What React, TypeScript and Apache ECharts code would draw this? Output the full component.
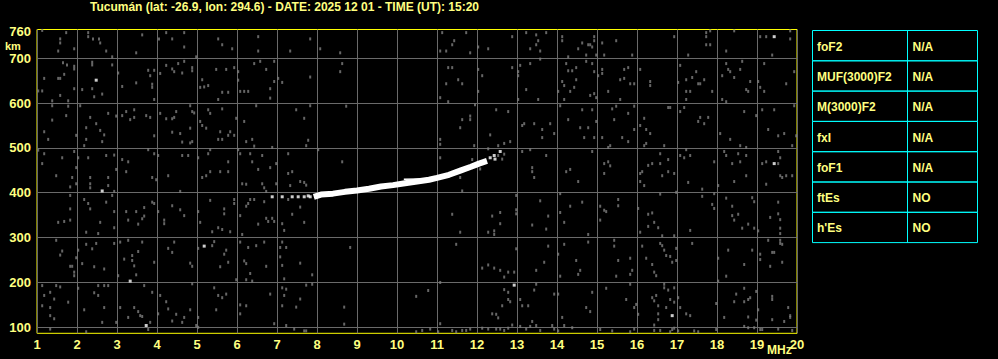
import React, { useEffect, useRef } from "react";
import * as echarts from "echarts";

const TITLE = "Tucumán (lat: -26.9, lon: 294.6) - DATE: 2025 12 01 - TIME (UT): 15:20";
const FREQ_MIN = 1;
const FREQ_MAX = 20;
const HEIGHT_MIN = 86.6;
const HEIGHT_MAX = 764;
const freqTicks = [1, 2, 3, 4, 5, 6, 7, 8, 9, 10, 11, 12, 13, 14, 15, 16, 17, 18, 19, 20];
const heightLabels = [100, 200, 300, 400, 500, 600, 700, 760];
const heightGrid = [100, 200, 300, 400, 500, 600, 700];

const paramNames = ["foF2", "MUF(3000)F2", "M(3000)F2", "fxI", "foF1", "ftEs", "h'Es"];
const paramValues = ["N/A", "N/A", "N/A", "N/A", "N/A", "NO", "NO"];

// F-layer trace (MHz, km)
const traceMain = [
  [7.92, 391], [8.1, 396], [8.4, 398], [8.7, 402], [9.0, 405], [9.3, 409], [9.6, 414],
  [9.9, 417], [10.2, 421], [10.5, 425], [10.8, 429], [11.0, 433], [11.3, 440],
  [11.6, 450], [11.85, 458], [12.05, 465], [12.25, 471],
];
const traceEcho = [[10.17, 430], [10.98, 431]];
const traceDots = [
  [6.88, 391], [7.13, 391], [7.38, 391], [7.53, 391], [7.68, 391], [7.78, 393], [7.83, 391],
  [12.33, 478], [12.43, 483], [12.58, 492], [12.45, 475],
];

const noiseWhite = [
  [2.48, 651], [2.63, 404], [3.33, 203], [3.73, 104], [5.18, 281], [12.93, 194],
  [19.43, 748], [19.43, 465], [16.88, 126],
];

const noiseGray = [
  // 1-7 MHz
  [1.13, 762], [1.73, 757], [1.58, 743], [1.58, 734], [2.28, 757], [2.28, 748], [2.4, 743], [2.55, 743],
  [2.58, 734], [2.73, 716], [2.88, 703], [3.48, 712], [3.63, 752], [4.05, 743], [4.23, 757], [4.38, 743],
  [4.68, 757], [4.68, 725], [4.98, 703], [5.53, 743], [5.63, 730], [5.88, 721], [6.53, 748], [6.53, 716],
  [1.93, 721], [1.53, 716],
  [1.65, 690], [1.75, 685], [1.93, 682], [1.93, 676], [2.38, 691], [2.38, 685], [2.88, 685], [1.18, 655],
  [1.53, 655], [1.58, 655], [1.68, 664], [1.93, 632], [2.38, 632], [2.43, 614], [2.63, 620],
  [1.78, 605], [1.58, 617], [1.38, 605], [3.03, 667], [3.48, 645], [3.13, 637], [3.78, 673], [3.93, 673],
  [3.88, 642], [3.88, 635], [3.83, 661], [3.93, 608], [4.08, 666], [4.23, 684], [4.38, 676], [4.53, 688],
  [4.68, 693], [4.43, 670], [4.63, 667], [4.88, 679], [4.88, 672], [5.13, 652], [5.18, 636], [5.08, 635],
  [5.28, 639], [5.48, 675], [5.73, 675], [5.78, 624], [5.63, 624], [5.53, 608], [5.93, 679], [6.03, 670],
  [6.03, 651], [6.08, 626], [6.18, 626], [6.28, 626], [6.43, 688], [6.58, 693], [6.73, 675], [6.83, 632],
  [6.93, 693], [6.93, 648], [7.03, 655], [7.13, 646], [6.83, 611], [1.13, 627], [1.03, 627], [2.13, 630],
  [1.38, 594], [1.78, 593], [2.08, 594], [1.38, 562], [1.73, 572], [2.23, 545], [2.33, 568], [2.48, 554],
  [2.58, 539], [2.68, 529], [2.63, 514], [2.78, 577], [2.98, 571], [1.18, 536], [1.28, 519], [1.98, 528],
  [2.23, 519], [2.18, 505], [3.13, 572], [3.23, 581], [3.33, 563], [3.43, 585], [3.43, 568], [3.73, 572],
  [3.83, 568], [3.93, 527], [4.08, 577], [4.23, 565], [4.38, 565], [4.43, 568], [4.48, 581], [4.38, 535],
  [4.58, 532], [4.83, 594], [4.88, 581], [4.93, 578], [4.83, 544], [4.83, 511], [4.88, 514], [4.63, 513],
  [5.08, 559], [5.13, 550], [5.23, 544], [5.28, 585], [5.33, 577], [5.63, 587], [5.58, 536], [5.53, 519],
  [5.63, 519], [5.78, 528], [5.83, 536], [5.93, 528], [6.18, 559], [6.23, 514], [6.38, 519], [6.48, 594],
  [6.43, 504], [5.98, 566],
  [1.03, 495], [1.18, 487], [1.13, 465], [1.48, 438], [1.63, 478], [1.88, 434], [1.93, 492], [1.83, 413],
  [1.98, 456], [1.98, 420], [2.03, 478], [2.28, 478], [2.33, 434], [2.33, 420], [2.33, 411], [2.73, 483],
  [2.78, 434], [2.78, 416], [2.93, 484], [2.98, 452], [3.13, 474], [3.28, 469], [3.23, 447], [2.93, 403],
  [3.78, 496], [3.93, 487], [3.88, 434], [3.98, 429], [4.03, 483], [4.28, 438], [4.63, 483], [4.78, 483],
  [4.58, 403], [5.03, 478], [5.13, 434], [5.23, 438], [5.28, 487], [5.33, 496], [5.33, 447], [5.58, 447],
  [5.78, 469], [5.78, 447], [6.03, 496], [6.08, 487], [6.13, 420], [6.23, 419], [6.33, 487], [6.38, 469],
  [6.53, 452], [6.63, 483], [6.63, 420], [6.68, 411], [6.73, 403], [6.88, 501], [6.83, 456], [6.98, 465],
  [6.98, 420], [7.28, 487], [7.28, 443],
  [1.83, 394], [1.83, 364], [1.83, 339], [1.68, 336], [1.53, 334], [2.18, 385], [2.28, 376], [2.33, 364],
  [2.73, 379], [2.88, 394], [2.93, 358], [2.93, 322], [2.58, 334], [2.23, 312], [2.53, 309], [3.23, 358],
  [3.48, 358], [3.63, 342], [3.68, 348], [3.68, 367], [3.53, 330], [3.28, 339], [3.88, 379], [3.93, 376],
  [4.03, 358], [4.18, 339], [4.18, 331], [4.38, 371], [4.58, 362], [4.68, 349], [5.03, 358], [5.08, 334],
  [5.33, 383], [5.38, 313], [5.53, 322], [5.63, 318], [5.68, 364], [5.68, 353], [5.83, 313], [5.93, 385],
  [5.93, 376], [6.08, 349], [6.28, 376], [6.33, 385], [6.43, 385], [6.23, 370], [6.13, 307], [6.53, 330],
  [6.68, 380], [6.73, 343], [6.78, 336], [6.88, 343], [6.93, 336], [7.13, 331], [7.18, 316], [7.28, 385],
  [1.48, 294], [1.63, 270], [1.58, 261], [1.83, 236], [1.88, 236], [1.98, 255], [2.03, 272], [1.93, 223],
  [1.93, 215], [2.13, 242], [2.23, 285], [2.38, 275], [2.48, 287], [2.43, 235], [2.68, 230], [2.93, 287],
  [3.08, 290], [3.28, 294], [3.18, 252], [3.38, 260], [3.38, 249], [3.43, 237], [3.48, 217], [3.03, 215],
  [3.63, 290], [3.53, 269], [3.93, 245], [4.28, 276], [4.38, 267], [4.43, 290], [4.83, 243], [4.88, 236],
  [5.03, 276], [5.38, 282], [5.43, 291], [5.73, 272], [5.68, 263], [5.78, 245], [5.58, 235], [6.08, 290],
  [6.18, 248], [6.23, 242], [6.33, 220], [6.28, 278], [6.48, 282], [6.73, 236], [6.68, 290], [5.98, 206],
  [6.23, 206], [6.38, 203], [7.13, 290], [7.08, 278], [7.23, 278], [7.08, 257], [7.13, 238], [7.18, 208],
  [1.13, 193], [1.18, 171], [1.33, 178], [1.48, 193], [1.58, 190], [1.43, 163], [1.33, 144], [1.13, 148],
  [1.33, 126], [1.43, 119], [1.78, 156], [2.03, 187], [2.18, 139], [2.43, 177], [2.53, 193], [2.53, 171],
  [2.68, 193], [2.78, 193], [2.68, 144], [2.63, 111], [2.98, 111], [3.08, 144], [3.28, 122], [3.43, 144],
  [3.53, 135], [3.58, 126], [3.63, 124], [3.68, 193], [3.88, 178], [3.83, 111], [4.03, 130], [4.08, 171],
  [4.23, 157], [4.28, 141], [4.38, 114], [4.48, 129], [4.63, 111], [4.68, 122], [4.83, 139], [4.88, 197],
  [5.03, 122], [4.98, 104], [5.43, 188], [5.53, 171], [5.63, 166], [5.73, 174], [5.48, 139], [6.08, 150],
  [6.23, 148], [6.08, 130], [6.93, 108], [6.83, 174], [7.13, 188], [7.18, 171], [7.23, 185], [7.23, 104],
  [7.13, 148], [1.33, 96], [2.23, 90], [3.78, 95], [5.03, 100],
  // 7-13.7 MHz
  [7.83, 743], [8.08, 721], [8.58, 712], [11.13, 757], [11.43, 739], [11.38, 730], [11.23, 716], [11.08, 716],
  [11.73, 757], [11.83, 712], [12.03, 725], [12.28, 721], [12.88, 748], [13.23, 757], [13.48, 752],
  [13.53, 739], [13.48, 730], [13.33, 721], [13.58, 716], [7.33, 716],
  [8.63, 688], [8.58, 670], [7.83, 658], [11.28, 679], [11.38, 679], [11.23, 643], [11.53, 652], [11.63, 643],
  [12.03, 675], [12.13, 661], [12.03, 626], [11.08, 612], [11.28, 603], [12.88, 679], [13.03, 670],
  [13.08, 684], [13.33, 688], [13.03, 661], [13.23, 630], [13.03, 608], [13.53, 608], [13.58, 698],
  [7.48, 585], [7.68, 566], [7.83, 594], [7.78, 517], [7.73, 505], [8.73, 593], [11.63, 563], [11.83, 571],
  [11.83, 563], [11.58, 545], [11.95, 596], [12.48, 585], [12.78, 581], [13.13, 550], [13.18, 554],
  [13.43, 554], [13.63, 541], [13.63, 523], [12.33, 529], [11.08, 519], [11.08, 508], [11.93, 505],
  [12.28, 498], [12.53, 505], [12.68, 510], [12.83, 514],
  [8.03, 496], [8.63, 469], [7.38, 447], [7.58, 425], [7.68, 423], [7.73, 417], [7.33, 416], [11.08, 478],
  [11.58, 434], [11.63, 404], [13.13, 492], [13.33, 496], [13.38, 456], [13.38, 447], [13.43, 434],
  [12.08, 453], [11.88, 474], [12.53, 483], [12.68, 486], [12.63, 475],
  [7.58, 368], [7.38, 352], [7.68, 334], [11.38, 352], [11.58, 312], [12.38, 348], [12.58, 356],
  [12.58, 331], [12.28, 312], [12.43, 315], [12.43, 307], [12.98, 394], [12.98, 362], [12.98, 353],
  [13.38, 328], [13.58, 382],
  [8.83, 278], [7.58, 243], [7.88, 217], [11.48, 285], [12.98, 275], [12.13, 232], [12.28, 239], [12.43, 232],
  [12.58, 227], [12.68, 212], [12.78, 223], [12.93, 223], [13.48, 227], [11.08, 200],
  [7.73, 194], [7.88, 196], [7.58, 163], [7.48, 145], [8.68, 145], [8.68, 107], [10.48, 169], [10.78, 182],
  [12.68, 184], [12.78, 178], [12.78, 162], [12.83, 157], [13.08, 162], [13.13, 148], [13.28, 148],
  [12.63, 148], [12.38, 130], [12.48, 129], [12.53, 121], [13.48, 196], [13.43, 183], [13.38, 113],
  [13.48, 104], [11.08, 108],
  [10.48, 90], [10.63, 93], [10.83, 96], [11.03, 90], [11.38, 93], [11.48, 90], [11.63, 93], [11.73, 93],
  [11.83, 96], [12.13, 98], [12.28, 96], [12.48, 96], [12.58, 96], [12.68, 93], [12.78, 98], [12.88, 105],
  [13.08, 102], [13.23, 96], [13.33, 102], [13.58, 93], [7.68, 92], [7.73, 92], [7.43, 96],
  // 13.7-20 MHz
  [13.73, 757], [14.13, 748], [14.13, 739], [14.28, 703], [14.53, 721], [14.63, 734], [14.73, 707],
  [14.78, 730], [14.83, 730], [14.88, 725], [14.93, 748], [14.93, 739], [14.98, 707], [15.13, 734],
  [15.48, 739], [15.18, 707], [15.88, 707], [16.93, 748], [17.28, 707], [17.73, 757], [17.73, 748],
  [17.73, 730], [17.83, 730], [17.83, 761], [18.23, 716], [18.43, 761], [19.08, 748], [19.23, 748],
  [19.38, 707], [19.83, 743], [19.83, 761],
  [14.23, 688], [14.38, 672], [14.28, 672], [14.48, 679], [14.73, 693], [14.88, 688], [14.93, 670],
  [15.03, 661], [15.13, 675], [15.13, 666], [15.68, 675], [15.78, 679], [15.58, 652], [15.68, 655],
  [15.83, 643], [15.93, 643], [16.08, 675], [16.33, 648], [16.33, 639], [14.13, 648], [14.18, 639],
  [14.33, 626], [14.03, 626], [14.48, 652], [14.43, 635], [14.18, 608], [14.83, 617], [14.93, 621],
  [14.98, 612], [15.28, 626], [15.58, 608], [17.03, 646], [17.08, 684], [17.23, 652], [17.38, 657],
  [17.48, 670], [17.53, 643], [17.58, 643], [17.68, 652], [17.23, 626], [17.33, 626], [17.88, 626],
  [18.13, 661], [18.23, 688], [18.28, 675], [18.33, 670], [18.43, 657], [18.58, 675], [18.63, 693],
  [18.73, 630], [18.78, 626], [18.83, 648], [19.03, 648], [19.08, 635], [19.18, 626], [19.18, 688],
  [19.73, 643], [19.93, 670], [18.13, 608], [18.23, 603], [17.23, 608],
  [14.08, 594], [13.83, 554], [14.28, 563], [14.63, 585], [14.58, 545], [14.68, 523], [14.78, 545],
  [14.88, 585], [14.93, 523], [14.98, 559], [15.13, 523], [15.38, 587], [15.43, 563], [15.48, 593],
  [15.78, 577], [15.63, 523], [15.78, 514], [15.33, 505], [15.93, 593], [15.93, 541], [16.08, 550],
  [16.18, 566], [16.23, 541], [16.33, 532], [16.18, 505], [16.23, 510], [16.68, 505], [16.78, 590],
  [16.83, 590], [17.08, 581], [17.18, 590], [17.53, 559], [17.58, 568], [17.68, 554], [17.78, 568],
  [18.08, 532], [18.33, 519], [18.68, 581], [18.58, 505], [18.73, 501], [18.98, 572], [19.13, 585],
  [19.28, 541], [19.43, 585], [19.53, 527], [19.68, 532], [19.93, 594], [19.98, 527], [19.88, 505],
  [13.93, 532],
  [13.73, 483], [14.23, 447], [14.33, 452], [14.53, 425], [14.88, 492], [15.18, 465], [15.18, 443],
  [15.28, 469], [15.33, 460], [15.28, 501], [16.08, 443], [16.13, 447], [16.08, 425], [16.18, 416],
  [16.28, 461], [16.38, 465], [16.58, 487], [16.58, 465], [16.63, 438], [16.78, 474], [16.78, 447],
  [16.93, 443], [17.08, 483], [17.18, 478], [17.23, 496], [17.33, 483], [17.28, 423], [17.93, 469],
  [18.03, 416], [18.18, 492], [18.23, 483], [18.38, 465], [18.53, 487], [18.43, 425], [18.58, 469],
  [18.73, 483], [18.73, 438], [19.13, 465], [19.23, 469], [19.23, 419], [19.53, 492], [19.53, 465],
  [19.58, 438], [19.63, 434], [19.73, 438], [19.88, 438], [19.58, 478], [17.63, 408],
  [14.08, 398], [13.78, 348], [14.08, 356], [14.18, 334], [13.73, 319], [14.33, 370], [14.63, 379],
  [14.78, 307], [15.08, 370], [15.18, 361], [15.23, 358], [15.08, 339], [15.53, 385], [15.53, 371],
  [16.03, 365], [16.08, 312], [16.28, 352], [16.38, 355], [16.43, 334], [16.28, 325], [16.53, 322],
  [16.58, 397], [16.63, 304], [16.93, 304], [16.98, 401], [17.33, 316], [17.63, 392], [17.88, 374],
  [17.93, 365], [17.93, 398], [18.23, 388], [18.38, 370], [18.38, 349], [18.53, 352], [18.43, 339],
  [18.63, 321], [18.78, 330], [18.93, 321], [18.88, 389], [18.93, 380], [19.03, 315], [19.53, 379],
  [19.53, 353], [19.58, 340], [19.33, 345], [19.58, 321], [19.58, 309],
  [13.78, 281], [13.68, 245], [14.03, 263], [14.18, 285], [14.48, 249], [14.53, 218], [14.58, 227],
  [14.78, 290], [14.08, 214], [15.43, 294], [15.43, 281], [15.53, 249], [15.83, 254], [15.88, 227],
  [15.48, 214], [15.83, 218], [16.13, 281], [16.23, 254], [16.38, 240], [16.43, 223], [16.48, 215],
  [16.58, 287], [16.63, 282], [16.68, 272], [16.73, 260], [16.83, 258], [16.88, 245], [16.98, 276],
  [16.98, 249], [17.38, 287], [18.03, 254], [18.28, 272], [18.23, 214], [18.68, 240], [18.88, 272],
  [19.08, 263], [19.08, 251], [19.28, 294], [19.38, 267], [19.43, 267], [19.58, 294], [19.58, 287],
  [19.63, 285], [19.63, 245], [19.33, 236], [18.03, 203],
  [13.93, 174], [14.03, 174], [14.88, 178], [15.23, 187], [14.73, 144], [14.83, 135], [15.73, 162],
  [15.83, 196], [15.98, 151], [15.93, 144], [16.38, 166], [16.43, 159], [16.48, 171], [16.53, 148],
  [16.53, 130], [16.68, 196], [16.68, 188], [16.78, 183], [16.73, 144], [16.83, 162], [16.93, 156],
  [16.93, 188], [17.03, 166], [17.08, 144], [17.23, 130], [17.33, 126], [17.98, 153], [18.18, 122],
  [18.48, 174], [18.43, 157], [18.68, 187], [18.68, 157], [18.78, 162], [18.83, 166], [18.98, 180],
  [19.03, 139], [18.78, 123], [18.98, 116], [19.38, 169], [19.38, 162], [19.38, 117], [19.78, 144],
  [19.83, 126], [19.83, 122], [19.68, 113], [14.13, 122], [16.53, 117], [16.43, 105], [16.03, 129],
  [13.88, 104], [13.93, 96], [14.03, 92], [14.18, 104], [14.38, 99], [15.08, 95], [15.38, 92], [15.83, 90],
  [15.93, 96], [16.43, 93], [16.58, 93], [16.83, 90], [16.88, 95], [16.93, 98], [17.03, 92], [17.43, 92],
  [17.53, 90], [17.98, 95], [18.68, 102], [18.78, 99], [18.93, 99], [19.08, 95], [19.13, 95], [19.53, 96],
  [19.88, 93],
];

const PALE = "#ffff80";
const FONT = '"Liberation Sans", Arial, sans-serif';

export default function App() {
  const ref = useRef<HTMLDivElement>(null);

  useEffect(() => {
    document.body.style.margin = "0";
    document.body.style.background = "#000";
    if (!ref.current) return;
    const chart = echarts.init(ref.current, null, { renderer: "svg" });

    const tableLeft = 812.5;
    const tableRight = 977.5;
    const tableTop = 30.5;
    const rowH = 30.3;
    const colX = 907.5;

    const tableGraphics: any[] = [];
    paramNames.forEach((name, i) => {
      const y = tableTop + i * rowH;
      tableGraphics.push({
        type: "rect",
        shape: { x: tableLeft, y, width: tableRight - tableLeft, height: rowH },
        style: { fill: "none", stroke: "#00ffff", lineWidth: 1 },
      });
      tableGraphics.push({
        type: "text",
        x: 817,
        y: y + rowH / 2 + 1,
        style: { text: name, fill: PALE, font: `bold 12px ${FONT}`, verticalAlign: "middle" },
      });
      tableGraphics.push({
        type: "text",
        x: 912.5,
        y: y + rowH / 2 + 1,
        style: { text: paramValues[i], fill: PALE, font: `bold 12px ${FONT}`, verticalAlign: "middle" },
      });
    });
    tableGraphics.push({
      type: "line",
      shape: { x1: colX, y1: tableTop, x2: colX, y2: tableTop + paramNames.length * rowH },
      style: { stroke: "#00ffff", lineWidth: 1 },
    });

    chart.setOption({
      animation: false,
      backgroundColor: "#000",
      grid: {
        left: 37,
        right: 201,
        top: 29.5,
        bottom: 25.7,
        show: true,
        borderColor: "#ffff00",
        borderWidth: 1,
        backgroundColor: "#000",
      },
      xAxis: {
        type: "value",
        min: FREQ_MIN,
        max: FREQ_MAX,
        interval: 1,
        axisLine: { show: false },
        axisTick: { show: false },
        splitLine: { show: true, lineStyle: { color: "#6a6a6a", width: 1 } },
        axisLabel: {
          color: PALE,
          fontWeight: "bold",
          fontSize: 13,
          fontFamily: FONT,
          margin: 5,
          customValues: freqTicks,
          formatter: (v: number) => String(v),
        },
      },
      yAxis: {
        type: "value",
        min: HEIGHT_MIN,
        max: HEIGHT_MAX,
        axisLine: { show: false },
        axisTick: { show: false },
        splitLine: { show: false },
        axisLabel: {
          color: PALE,
          fontWeight: "bold",
          fontSize: 13,
          fontFamily: FONT,
          margin: 6,
          customValues: heightLabels,
          formatter: (v: number) => String(v),
        },
      },
      series: [
        {
          type: "scatter",
          data: noiseGray,
          symbol: "rect",
          symbolSize: [2, 3],
          itemStyle: { color: "#808080" },
          silent: true,
          z: 2,
          markLine: {
            silent: true,
            symbol: "none",
            label: { show: false },
            lineStyle: { color: "#6a6a6a", width: 1, type: "solid" },
            data: heightGrid.map((h) => ({ yAxis: h })),
            z: 1,
          },
        },
        {
          type: "scatter",
          data: noiseWhite,
          symbol: "rect",
          symbolSize: [3, 3],
          itemStyle: { color: "#ffffff" },
          silent: true,
          z: 3,
        },
        {
          type: "line",
          data: traceMain,
          showSymbol: false,
          lineStyle: { color: "#ffffff", width: 6 },
          silent: true,
          z: 4,
        },
        {
          type: "line",
          data: traceEcho,
          showSymbol: false,
          lineStyle: { color: "#ffffff", width: 1.5 },
          silent: true,
          z: 4,
        },
        {
          type: "scatter",
          data: traceDots,
          symbol: "rect",
          symbolSize: [3, 3],
          itemStyle: { color: "#ffffff" },
          silent: true,
          z: 4,
        },
      ],
      graphic: [
        {
          type: "text",
          left: 90,
          top: 1,
          style: { text: TITLE, fill: PALE, font: `bold 12px ${FONT}` },
        },
        {
          type: "text",
          left: 5,
          top: 40,
          style: { text: "km", fill: PALE, font: `bold 11px ${FONT}` },
        },
        {
          type: "text",
          left: 767,
          top: 344,
          style: { text: "MHz", fill: PALE, font: `bold 12px ${FONT}` },
        },
        ...tableGraphics,
      ],
    });

    return () => {
      chart.dispose();
    };
  }, []);

  return (
    <div
      ref={ref}
      style={{ position: "absolute", left: 0, top: 0, width: 998, height: 359, background: "#000" }}
    />
  );
}
